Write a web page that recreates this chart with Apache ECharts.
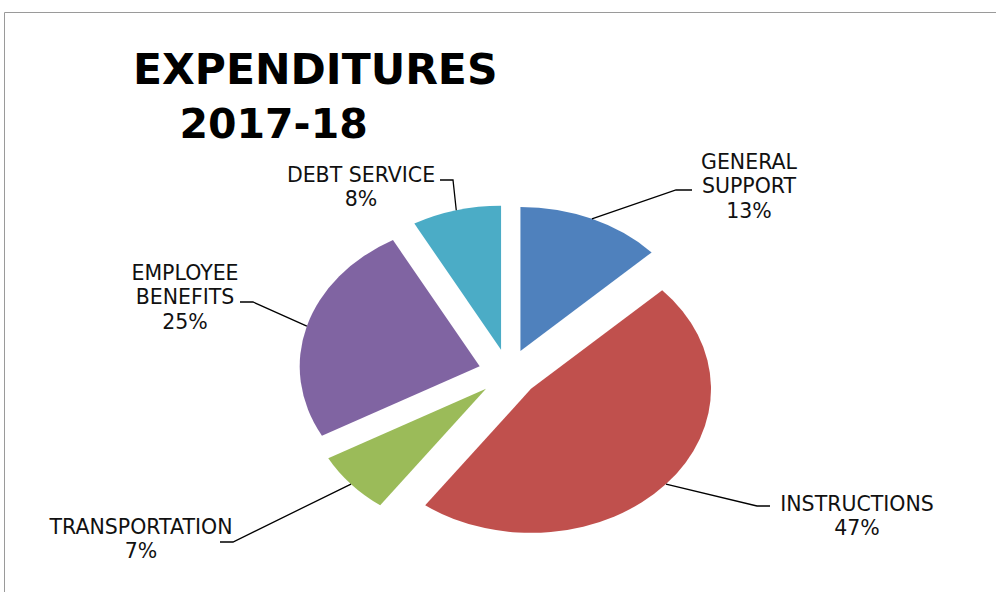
<!DOCTYPE html>
<html><head><meta charset="utf-8">
<script src="https://cdn.jsdelivr.net/npm/echarts@6/dist/echarts.min.js"></script>
<style>
html,body{margin:0;padding:0;background:#fff;}
#wrap{position:relative;width:996px;height:592px;overflow:hidden;background:#fff;}
.layer{position:absolute;left:0;top:0;width:996px;height:592px;}
</style>
</head><body>
<div id="wrap"><div id="pie" class="layer"></div><div id="lab" class="layer"></div></div>
<script>
// ---- data ----
const categories = ['GENERAL\nSUPPORT', 'INSTRUCTIONS', 'TRANSPORTATION', 'EMPLOYEE\nBENEFITS', 'DEBT SERVICE'];
const shares = [13, 47, 7, 25, 8];
const titleLines = ['EXPENDITURES', '2017-18'];

// ---- styling / layout ----
const colors = ['#4F81BD', '#C0504D', '#9BBB59', '#8064A2', '#4BACC6'];
const CX = 508.5, CY = 373, R = 180, EXPLODE = 30, SQUASH = 0.8;
const labelSpots = [
  { text: [749, 186], elbow: [676, 190], end: [692, 190] },
  { text: [857, 516], elbow: [757, 506], end: [770, 506] },
  { text: [141, 539], elbow: [233, 542], end: [220, 542] },
  { text: [185, 297], elbow: [253, 302], end: [240, 302] },
  { text: [361, 187], elbow: [453, 180], end: [440, 180] }
];

const pieDiv = document.getElementById('pie');
pieDiv.style.transformOrigin = CX + 'px ' + CY + 'px';
pieDiv.style.transform = 'scaleY(' + SQUASH + ')';

const pieChart = echarts.init(pieDiv, null, { renderer: 'svg' });
pieChart.setOption({
  animation: false,
  series: [{
    type: 'pie',
    center: [CX, CY],
    radius: R,
    startAngle: 90,
    clockwise: true,
    selectedMode: 'multiple',
    selectedOffset: EXPLODE,
    label: { show: false },
    labelLine: { show: false },
    emphasis: { disabled: true },
    itemStyle: { borderWidth: 0 },
    data: categories.map((n, i) => ({ name: n, value: shares[i], selected: true, itemStyle: { color: colors[i] } }))
  }]
});

const labChart = echarts.init(document.getElementById('lab'), null, { renderer: 'svg' });
labChart.setOption({
  animation: false,
  backgroundColor: 'transparent',
  title: [
    { text: titleLines[0], left: 133, top: 47.5, padding: 0,
      textStyle: { fontFamily: 'DejaVu Sans', fontWeight: 'bold', fontSize: 42.5, color: '#000' } },
    { text: titleLines[1], left: 179.5, top: 103, padding: 0,
      textStyle: { fontFamily: 'DejaVu Sans', fontWeight: 'bold', fontSize: 41, color: '#000' } }
  ],
  graphic: [{
    type: 'rect', silent: true,
    shape: { x: 4.5, y: 12.5, width: 1200, height: 800 },
    style: { fill: 'none', stroke: '#9a9a9a', lineWidth: 1 }
  }],
  series: [{
    type: 'pie',
    center: [CX, CY],
    radius: R + EXPLODE,
    startAngle: 90,
    clockwise: true,
    silent: true,
    avoidLabelOverlap: false,
    itemStyle: { color: 'rgba(0,0,0,0)', borderWidth: 0 },
    label: {
      show: true, position: 'outside', formatter: '{b}\n{d}%',
      fontFamily: 'DejaVu Sans', fontSize: 20.5, lineHeight: 24.5, color: '#111',
      align: 'center', edgeDistance: 0, overflow: 'none'
    },
    labelLine: { show: true, length: 10, length2: 10, lineStyle: { color: '#000', width: 1.3 } },
    labelLayout: function (p) {
      const s = labelSpots[p.dataIndex];
      const pts = p.labelLinePoints;
      const p0 = pts && pts[0] ? [pts[0][0], CY + SQUASH * (pts[0][1] - CY)] : s.elbow;
      return { x: s.text[0], y: s.text[1], align: 'center', verticalAlign: 'middle',
               labelLinePoints: [p0, s.elbow, s.end] };
    },
    data: categories.map((n, i) => ({ name: n, value: shares[i] }))
  }]
});
</script>
</body></html>
